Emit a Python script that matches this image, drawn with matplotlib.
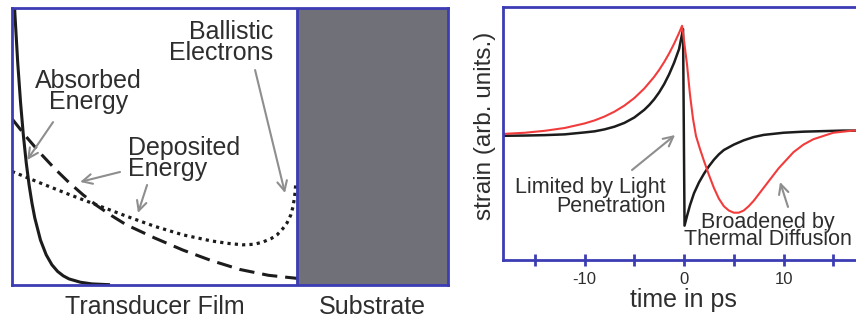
import matplotlib
matplotlib.use('Agg')
import matplotlib.pyplot as plt

plt.rcParams['font.family'] = ['Liberation Sans', 'DejaVu Sans']
plt.rcParams['axes.unicode_minus'] = False

BLUE = '#3c3cb4'
GRAY_ARROW = '#8e8e8e'
TEXT = '#2e2e2e'
SUBSTRATE = '#6f7078'
RED = '#f23c3c'
BLACK = '#1c1c1c'

# ---- energy profiles through the film (depth 0..1 = film, 1..1.53 = substrate)
absorbed_depth = [0.0, 0.01, 0.02, 0.03, 0.04, 0.05, 0.06, 0.07, 0.08, 0.10,
                  0.12, 0.14, 0.16, 0.18, 0.20, 0.24, 0.28, 0.344]
absorbed = [1.2, 0.982, 0.804, 0.659, 0.539, 0.441, 0.361, 0.296, 0.242, 0.162,
            0.109, 0.073, 0.049, 0.033, 0.022, 0.010, 0.004, 0.001]

deposited_depth = [0.0, 0.05, 0.1, 0.15, 0.2, 0.25, 0.3, 0.35, 0.4, 0.5,
                   0.6, 0.7, 0.8, 0.9, 1.0]
deposited = [0.6, 0.535, 0.475, 0.42, 0.37, 0.325, 0.285, 0.25, 0.218, 0.17,
             0.126, 0.088, 0.056, 0.035, 0.024]

ballistic_depth = [0.0, 0.1, 0.2, 0.3, 0.4, 0.5, 0.6, 0.7, 0.76, 0.81, 0.85,
                   0.88, 0.91, 0.93, 0.95, 0.965, 0.978, 0.986, 0.992, 0.996]
ballistic = [0.41, 0.368, 0.327, 0.288, 0.249, 0.212, 0.181, 0.159, 0.15, 0.145,
             0.147, 0.155, 0.168, 0.181, 0.203, 0.224, 0.252, 0.282, 0.32, 0.368]

# ---- strain pulses vs time
t_light = [-18, -16, -14, -12, -10, -9, -8, -7, -6, -5, -4, -3.5, -3, -2.5, -2,
           -1.5, -1, -0.5, -0.1, 0.05, 0.3, 0.6, 1.0, 1.5, 2.0, 2.5, 3.0, 3.5,
           4.0, 5.0, 6.0, 7.0, 8.0, 9.0, 10, 12, 14, 16, 20]
strain_light = [0.002, 0.004, 0.008, 0.015, 0.033, 0.043, 0.061, 0.086, 0.121,
                0.171, 0.242, 0.287, 0.34, 0.404, 0.48, 0.571, 0.678, 0.805,
                0.99, -0.83, -0.74, -0.64, -0.53, -0.43, -0.35, -0.28, -0.22,
                -0.17, -0.13, -0.08, -0.04, -0.01, 0.01, 0.02, 0.03, 0.04,
                0.045, 0.05, 0.05]

t_thermal = [-18, -16, -14, -12, -10, -9, -8, -7, -6, -5, -4, -3, -2.5, -2,
             -1.5, -1, -0.5, -0.2, 0.0, 0.3, 0.6, 0.9, 1.2, 1.6, 2.0, 2.5, 3.0,
             3.5, 4.0, 4.5, 5.0, 5.5, 6.0, 6.5, 7.0, 7.5, 8.0, 8.5, 9.0, 9.5,
             10, 11, 12, 13, 14, 15, 16, 17, 18, 20]
strain_thermal = [0.02, 0.03, 0.048, 0.074, 0.116, 0.144, 0.18, 0.225, 0.281,
                  0.351, 0.439, 0.548, 0.612, 0.684, 0.764, 0.854, 0.954, 1.02,
                  0.88, 0.66, 0.38, 0.16, 0.0, -0.12, -0.23, -0.36, -0.48,
                  -0.58, -0.65, -0.69, -0.71, -0.71, -0.69, -0.65, -0.6, -0.54,
                  -0.48, -0.42, -0.36, -0.3, -0.25, -0.15, -0.08, -0.03, 0.0,
                  0.03, 0.04, 0.05, 0.05, 0.05]

W, H = 856, 321
fig = plt.figure(figsize=(W / 100, H / 100), dpi=100)
fig.patch.set_facecolor('white')

# ---------------- left: film + substrate
ax1 = fig.add_axes([12 / W, 1 - 285 / H, 436 / W, 277 / H])
ax1.set_xlim(0, 1.53)
ax1.set_ylim(0, 1)
ax1.axvspan(1.0, 1.53, color=SUBSTRATE, zorder=0)
ax1.axvline(1.0, color=BLUE, lw=2, zorder=3)
for s in ax1.spines.values():
    s.set_color(BLUE)
    s.set_linewidth(2)
ax1.set_xticks([])
ax1.set_yticks([])

ax1.plot(absorbed_depth, absorbed, color=BLACK, lw=2.2, solid_capstyle='butt')
ax1.plot(deposited_depth, deposited, color=BLACK, lw=2.2, linestyle=(0, (5, 2.6)))
ax1.plot(ballistic_depth, ballistic, color=BLACK, lw=2.3, linestyle=(0, (1, 1.3)))

ax1.text(0.267, 0.70, 'Absorbed\nEnergy', ha='center', va='center',
         multialignment='center', fontsize=18, color=TEXT, linespacing=0.85)
ax1.text(0.407, 0.458, 'Deposited\nEnergy', ha='left', va='center',
         multialignment='left', fontsize=18, color=TEXT, linespacing=0.85)
ax1.text(0.916, 0.875, 'Ballistic\nElectrons', ha='right', va='center',
         multialignment='right', fontsize=18, color=TEXT, linespacing=0.85)

arrow_kw = dict(arrowstyle='->,head_length=0.7,head_width=0.35',
                color=GRAY_ARROW, lw=1.5, shrinkA=0, shrinkB=0)
ax1.annotate('', xy=(0.053, 0.451), xytext=(0.144, 0.588), arrowprops=arrow_kw)
ax1.annotate('', xy=(0.239, 0.372), xytext=(0.379, 0.408), arrowprops=arrow_kw)
ax1.annotate('', xy=(0.442, 0.260), xytext=(0.474, 0.361), arrowprops=arrow_kw)
ax1.annotate('', xy=(0.958, 0.332), xytext=(0.853, 0.776), arrowprops=arrow_kw)

fig.text(155 / W, 1 - 307 / H, 'Transducer Film', ha='center', va='center',
         fontsize=18, color=TEXT)
fig.text(372 / W, 1 - 307 / H, 'Substrate', ha='center', va='center',
         fontsize=18, color=TEXT)

# ---------------- right: strain pulse
ax2 = fig.add_axes([503 / W, 1 - 260 / H, 380 / W, 253 / H])
ax2.set_xlim(-18.2, 20)
ax2.set_ylim(-1.148, 1.194)
for s in ax2.spines.values():
    s.set_color(BLUE)
    s.set_linewidth(2)
ax2.set_yticks([])
ax2.set_xticks([-10, 0, 10])
ax2.set_xticklabels(['-10', '0', '10'])
ax2.set_xticks([-15, -5, 5, 15], minor=True)
ax2.tick_params(axis='x', which='both', direction='inout', length=9, width=2,
                color=BLUE, labelsize=12, labelcolor=TEXT, pad=4)

ax2.plot(t_light, strain_light, color=BLACK, lw=1.8)
ax2.plot(t_thermal, strain_thermal, color=RED, lw=1.5)

ax2.text(-1.81, -0.565, 'Limited by Light\nPenetration', ha='right', va='center',
         multialignment='right', fontsize=15.5, color=TEXT, linespacing=0.85)
ax2.text(8.44, -0.88, 'Broadened by\nThermal Diffusion', ha='center', va='center',
         multialignment='center', fontsize=15.5, color=TEXT, linespacing=0.8)
ax2.annotate('', xy=(-0.9, 0.009), xytext=(-5.23, -0.315), arrowprops=arrow_kw)
ax2.annotate('', xy=(9.65, -0.426), xytext=(10.45, -0.657), arrowprops=arrow_kw)

fig.text(485 / W, 1 - 126 / H, 'strain (arb. units.)', ha='center', va='center',
         rotation=90, fontsize=17.5, color=TEXT)
fig.text(683 / W, 1 - 300 / H, 'time in ps', ha='center', va='center',
         fontsize=18, color=TEXT)

fig.savefig('out.png', dpi=100)
